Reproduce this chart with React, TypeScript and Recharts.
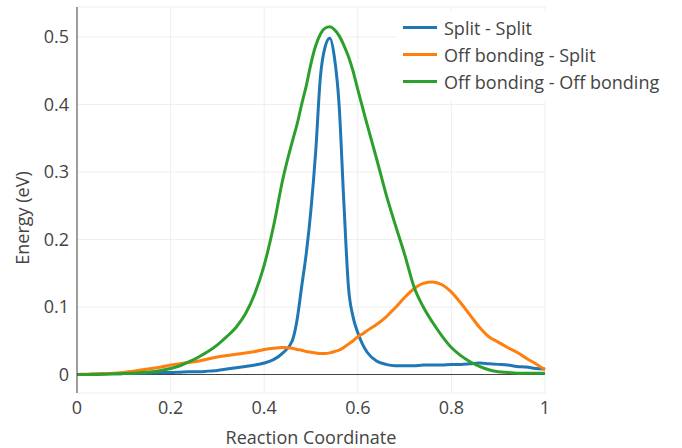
import React from 'react';
import { LineChart, Line, XAxis, YAxis, CartesianGrid, Legend, ReferenceLine } from 'recharts';

const coord = [
  0, 0.02, 0.04, 0.06, 0.08, 0.1, 0.12, 0.14, 0.16, 0.18, 0.2, 0.22, 0.24, 0.26, 0.28, 0.3,
  0.32, 0.34, 0.36, 0.38, 0.4, 0.42, 0.44, 0.46, 0.47, 0.48, 0.49, 0.5, 0.51, 0.52, 0.53,
  0.54, 0.55, 0.56, 0.57, 0.58, 0.59, 0.6, 0.61, 0.62, 0.64, 0.66, 0.68, 0.7, 0.72, 0.74,
  0.76, 0.78, 0.8, 0.82, 0.84, 0.86, 0.88, 0.9, 0.92, 0.94, 0.96, 0.98, 1,
];

const splitSplit = [
  0, 0, 0.0005, 0.001, 0.001, 0.0015, 0.002, 0.002, 0.0025, 0.003, 0.003, 0.0035, 0.004, 0.004, 0.005, 0.006,
  0.008, 0.01, 0.012, 0.014, 0.017, 0.022, 0.032, 0.05, 0.08, 0.13, 0.18, 0.245, 0.33, 0.44, 0.485,
  0.498, 0.47, 0.4, 0.258, 0.13, 0.085, 0.062, 0.045, 0.033, 0.02, 0.015, 0.013, 0.013, 0.013, 0.014,
  0.014, 0.014, 0.015, 0.015, 0.016, 0.017, 0.016, 0.015, 0.014, 0.012, 0.011, 0.009, 0.008,
];

const offSplit = [
  0, 0.0005, 0.001, 0.0015, 0.002, 0.003, 0.005, 0.007, 0.009, 0.011, 0.014, 0.016, 0.018, 0.02, 0.023, 0.026,
  0.028, 0.03, 0.032, 0.034, 0.037, 0.039, 0.04, 0.039, 0.037, 0.036, 0.034, 0.033, 0.032, 0.031, 0.031,
  0.032, 0.034, 0.036, 0.04, 0.045, 0.05, 0.056, 0.06, 0.065, 0.074, 0.085, 0.099, 0.114, 0.127, 0.135,
  0.137, 0.133, 0.122, 0.106, 0.088, 0.07, 0.056, 0.048, 0.04, 0.033, 0.024, 0.016, 0.007,
];

const offOff = [
  0, 0, 0, 0.0005, 0.001, 0.0015, 0.002, 0.003, 0.004, 0.006, 0.009, 0.013, 0.019, 0.026, 0.034, 0.044,
  0.056, 0.07, 0.09, 0.12, 0.162, 0.22, 0.29, 0.345, 0.37, 0.4, 0.428, 0.461, 0.487, 0.504, 0.513,
  0.515, 0.511, 0.502, 0.488, 0.471, 0.449, 0.422, 0.396, 0.37, 0.32, 0.268, 0.222, 0.178, 0.13, 0.1,
  0.077, 0.057, 0.04, 0.028, 0.019, 0.012, 0.007, 0.004, 0.003, 0.002, 0.002, 0.002, 0.002,
];

const xTicks = [0, 0.2, 0.4, 0.6, 0.8, 1];
const yTicks = [0, 0.1, 0.2, 0.3, 0.4, 0.5];

const seriesNames = ['Split - Split', 'Off bonding - Split', 'Off bonding - Off bonding'];
const colors = ['#1f77b4', '#ff7f0e', '#2ca02c'];

const data = coord.map((x, i) => ({
  x,
  a: splitSplit[i],
  b: offSplit[i],
  c: offOff[i],
}));

const font = '"Open Sans", sans-serif';
const fs = 18;

// legend drawn in series order (recharts hands the payload back reversed here)
const renderLegend = () => (
  <div style={{ background: '#fff', padding: '3px 0 6px 6px', fontFamily: font }}>
    {seriesNames.map((name, i) => (
      <div key={name} style={{ display: 'flex', alignItems: 'center', height: 27 }}>
        <span style={{ display: 'inline-block', width: 34, height: 3, background: colors[i], marginRight: 7 }} />
        <span style={{ fontSize: fs, color: '#444', whiteSpace: 'nowrap' }}>{name}</span>
      </div>
    ))}
  </div>
);

const YLabel = () => (
  <text x={22} y={218} transform="rotate(-90 22 218)" textAnchor="middle" dominantBaseline="central"
    fill="#444" fontSize={fs} fontFamily={font}>
    Energy (eV)
  </text>
);

const App: React.FC = () => {
  return (
    <div style={{ position: 'absolute', left: 0, top: 0, background: '#fff', fontFamily: font }}>
      <LineChart width={682} height={448} data={data} margin={{ top: 7, right: 137, bottom: 0, left: 0 }}>
        <CartesianGrid stroke="#eee" strokeWidth={1} />
        <XAxis
          dataKey="x"
          type="number"
          domain={[0, 1]}
          ticks={xTicks}
          tickFormatter={(v: number) => String(v)}
          axisLine={false}
          tickLine={false}
          height={55}
          tick={{ fill: '#444', fontSize: fs, fontFamily: font }}
          label={{ value: 'Reaction Coordinate', position: 'insideBottom', offset: 4, fill: '#444', fontSize: fs, fontFamily: font }}
        />
        <YAxis
          type="number"
          domain={[-0.0274, 0.5444]}
          ticks={yTicks}
          tickFormatter={(v: number) => String(v)}
          axisLine={{ stroke: '#444', strokeWidth: 1 }}
          tickLine={false}
          width={77}
          allowDataOverflow
          tick={{ fill: '#444', fontSize: fs, fontFamily: font }}
          label={<YLabel />}
        />
        <ReferenceLine y={0} stroke="#444" strokeWidth={1} />
        <Legend
          layout="vertical"
          align="center"
          verticalAlign="middle"
          content={renderLegend}
          wrapperStyle={{ left: 397, top: 11, width: 285 }}
        />
        <Line type="monotone" dataKey="a" name={seriesNames[0]} stroke={colors[0]} strokeWidth={3} dot={false} isAnimationActive={false} />
        <Line type="monotone" dataKey="b" name={seriesNames[1]} stroke={colors[1]} strokeWidth={3} dot={false} isAnimationActive={false} />
        <Line type="monotone" dataKey="c" name={seriesNames[2]} stroke={colors[2]} strokeWidth={3} dot={false} isAnimationActive={false} />
      </LineChart>
    </div>
  );
};

export default App;
